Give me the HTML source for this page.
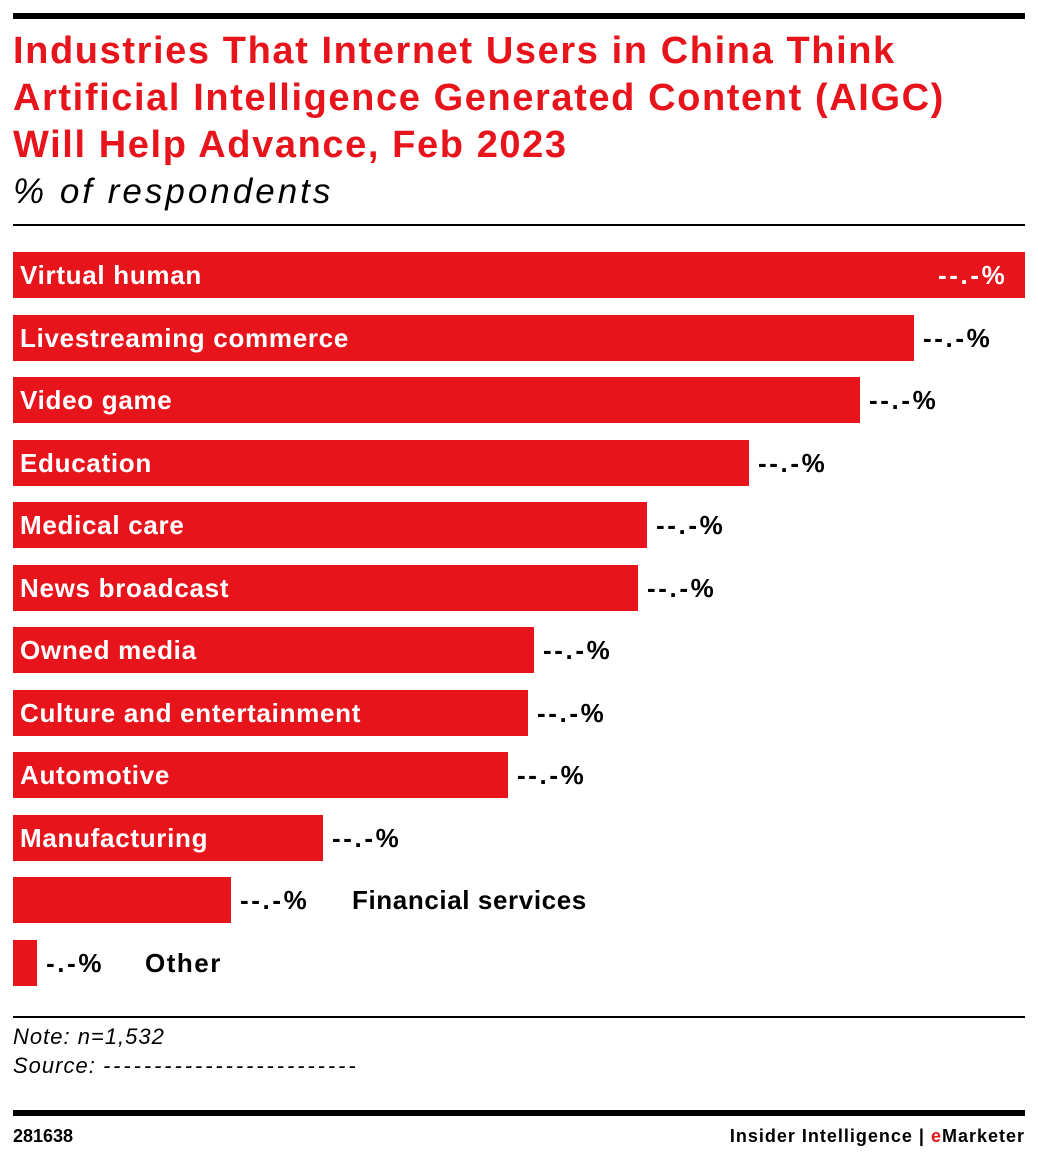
<!DOCTYPE html>
<html><head><meta charset="utf-8"><style>
body{margin:0;width:1038px;height:1160px;background:#fff;position:relative;font-family:"Liberation Sans",sans-serif;overflow:hidden}
.a{position:absolute}
.bar{position:absolute;left:13px;height:46px;background:#e8141c}
.lb{position:absolute;left:20px;color:#fff;font-weight:bold;font-size:26px;line-height:46px;white-space:nowrap;letter-spacing:0.7px}
.v{position:absolute;font-weight:bold;font-size:26px;line-height:46px;color:#000;white-space:nowrap;letter-spacing:0.6px}
.p{letter-spacing:2.6px}
</style></head><body>
<div class="a" style="left:13px;top:13px;width:1012px;height:6px;background:#000"></div>
<div class="a" style="left:13px;top:28px;font-size:38px;font-weight:bold;color:#e8141c;line-height:47px;letter-spacing:1.6px;white-space:nowrap">Industries That Internet Users in China Think<br>Artificial Intelligence Generated Content (AIGC)<br>Will Help Advance, Feb 2023</div>
<div class="a" style="left:13px;top:172px;font-size:35px;font-style:italic;color:#000;letter-spacing:3px">% of respondents</div>
<div class="a" style="left:13px;top:224px;width:1012px;height:2px;background:#000"></div>

<div class="bar" style="top:252px;width:1012px"></div><div class="lb" style="top:252px">Virtual human</div><div class="v p" style="top:252px;left:938px;color:#fff">--.-%</div>
<div class="bar" style="top:315px;width:901px"></div><div class="lb" style="top:315px">Livestreaming commerce</div><div class="v p" style="top:315px;left:923px">--.-%</div>
<div class="bar" style="top:377px;width:847px"></div><div class="lb" style="top:377px">Video game</div><div class="v p" style="top:377px;left:869px">--.-%</div>
<div class="bar" style="top:440px;width:736px"></div><div class="lb" style="top:440px">Education</div><div class="v p" style="top:440px;left:758px">--.-%</div>
<div class="bar" style="top:502px;width:634px"></div><div class="lb" style="top:502px">Medical care</div><div class="v p" style="top:502px;left:656px">--.-%</div>
<div class="bar" style="top:565px;width:625px"></div><div class="lb" style="top:565px">News broadcast</div><div class="v p" style="top:565px;left:647px">--.-%</div>
<div class="bar" style="top:627px;width:521px"></div><div class="lb" style="top:627px">Owned media</div><div class="v p" style="top:627px;left:543px">--.-%</div>
<div class="bar" style="top:690px;width:515px"></div><div class="lb" style="top:690px">Culture and entertainment</div><div class="v p" style="top:690px;left:537px">--.-%</div>
<div class="bar" style="top:752px;width:495px"></div><div class="lb" style="top:752px">Automotive</div><div class="v p" style="top:752px;left:517px">--.-%</div>
<div class="bar" style="top:815px;width:310px"></div><div class="lb" style="top:815px">Manufacturing</div><div class="v p" style="top:815px;left:332px">--.-%</div>
<div class="bar" style="top:877px;width:218px"></div><div class="v p" style="top:877px;left:240px">--.-%</div><div class="v" style="top:877px;left:352px">Financial services</div>
<div class="bar" style="top:940px;width:24px"></div><div class="v p" style="top:940px;left:46px">-.-%</div><div class="v" style="top:940px;left:145px;letter-spacing:1.5px">Other</div>

<div class="a" style="left:13px;top:1016px;width:1012px;height:2px;background:#000"></div>
<div class="a" style="left:13px;top:1022px;font-size:22px;font-style:italic;line-height:29px;letter-spacing:1px">Note: n=1,532<br>Source: <span style="letter-spacing:2.9px">-------------------------</span></div>
<div class="a" style="left:13px;top:1110px;width:1012px;height:6px;background:#000"></div>
<div class="a" style="left:13px;top:1126px;font-size:18px;font-weight:bold">281638</div>
<div class="a" style="right:13px;top:1126px;font-size:18px;font-weight:bold;letter-spacing:1px">Insider Intelligence | <span style="color:#e8141c">e</span>Marketer</div>
</body></html>
